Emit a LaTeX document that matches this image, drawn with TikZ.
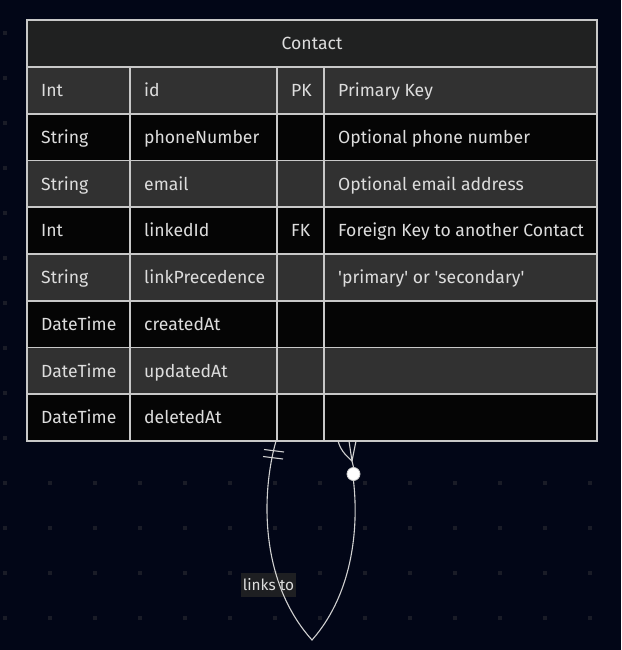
\documentclass[tikz,border=0pt]{standalone}
\usepackage{fontspec}
\setmainfont{Fira Sans}
\newcommand{\sq}{\textquotesingle}
\begin{document}
\begin{tikzpicture}[x=1pt,y=-1pt,
  cell/.style={anchor=base west,text=txt,font=\fontsize{17.6}{20}\selectfont,inner sep=0pt},
  rel/.style={draw=relc,line width=1.1pt},
  gridline/.style={draw=grid,line width=1.6pt}]
\definecolor{bg}{HTML}{020617}
\definecolor{dotc}{HTML}{1A1C27}
\definecolor{hdr}{HTML}{202121}
\definecolor{rowa}{HTML}{313131}
\definecolor{rowb}{HTML}{050505}
\definecolor{grid}{HTML}{C8C8C8}
\definecolor{txt}{HTML}{DDDDDD}
\definecolor{relc}{HTML}{D0D0D0}
\definecolor{lbl}{HTML}{1E1F22}
\useasboundingbox (0,0) rectangle (621,650);
\fill[bg] (0,0) rectangle (621,650);
% dot grid
\foreach \i in {0,...,13}{
  \foreach \j in {0,...,13}{
    \fill[dotc] ({5+45*\i-2},{33+45*\j-2}) rectangle ++(4,4);
  }}
% table fills
\fill[hdr] (27,20) rectangle (597,67);
\foreach \r/\c in {0/rowa,1/rowb,2/rowa,3/rowb,4/rowa,5/rowb,6/rowa,7/rowb}{
  \fill[\c] (27,{67+46.75*\r}) rectangle (597,{67+46.75*(\r+1)});
}
% grid lines
\draw[gridline] (27,20) rectangle (597,441);
\foreach \r in {0,...,7}{ \draw[gridline] (27,{67+46.75*\r}) -- (597,{67+46.75*\r}); }
\foreach \x in {130,277,324}{ \draw[gridline] (\x,67) -- (\x,441); }
% header
\node[text=txt,font=\fontsize{17.6}{20}\selectfont,inner sep=0pt,anchor=base] (title) at (312,50) {Contact};
% rows
\foreach \r/\t/\n/\k/\d in {
  0/Int/id/PK/Primary Key,
  1/String/phoneNumber//Optional phone number,
  2/String/email//Optional email address,
  3/Int/linkedId/FK/Foreign Key to another Contact,
  4/String/linkPrecedence//\sq primary\sq{} or \sq secondary\sq,
  5/DateTime/createdAt//,
  6/DateTime/updatedAt//,
  7/DateTime/deletedAt//}{
  \node[cell] (t\r) at (41,{96.5+46.75*\r}) {\t};
  \node[cell] (n\r) at (144,{96.5+46.75*\r}) {\n};
  \node[cell] (k\r) at (291,{96.5+46.75*\r}) {\k};
  \node[cell] (d\r) at (338,{96.5+46.75*\r}) {\d};
}
% relationship label
\node[fill=lbl,text=txt,font=\fontsize{15.4}{17}\selectfont,inner xsep=2pt,minimum width=51pt,minimum height=24pt] (lab) at (268.5,585) {links to};
% relationship
\coordinate (a) at (276,441);
\coordinate (tip) at (312,640);
\coordinate (j) at (352,461);
\node[circle,fill=white,draw=relc,line width=0.8pt,minimum size=13pt,inner sep=0pt] (circ) at (353.5,474) {};
\draw[rel] (a) .. controls (262,490) and (258,580) .. (tip)
           .. controls (356,590) and (358,520) .. (circ.south);
\draw[rel] (circ.north) -- (j);
\draw[rel] (338,441) .. controls (341,452) and (348,457) .. (j);
\draw[rel] (349,441) -- (j);
\draw[rel] (356,441) -- (j);
\draw[rel] (264,449.5) -- (284,452);
\draw[rel] (263,456.5) -- (283,459);
\end{tikzpicture}
\end{document}
